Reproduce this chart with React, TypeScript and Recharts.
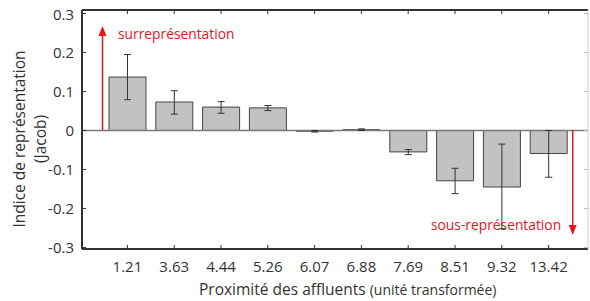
import { BarChart, Bar, XAxis, YAxis, ErrorBar, ReferenceLine } from "recharts";

// Proximité des affluents (categories) and Jacob index per class
const categories = ["1.21", "3.63", "4.44", "5.26", "6.07", "6.88", "7.69", "8.51", "9.32", "13.42"];
const jacob = [0.137, 0.073, 0.06, 0.058, -0.002, 0.002, -0.055, -0.129, -0.145, -0.059];
// lower / upper extent of the error bars (distance from the bar value)
const errLow = [0.058, 0.031, 0.016, 0.007, 0.002, 0.002, 0.007, 0.033, 0.107, 0.061];
const errHigh = [0.058, 0.029, 0.014, 0.006, 0.002, 0.002, 0.006, 0.032, 0.11, 0.059];
const yTicks = [-0.3, -0.2, -0.1, 0, 0.1, 0.2, 0.3];

const data = categories.map((cat, i) => ({
  cat,
  value: jacob[i],
  err: [errLow[i], errHigh[i]],
}));

const FONT = "'Open Sans', sans-serif";
const AXIS = "#333";
const RED = "#e8141c";
const DOMAIN: [number, number] = [-0.304, 0.309];

const LeftTick = ({ x, y, payload }: any) => (
  <g>
    <line x1={x} x2={x + 4} y1={y} y2={y} stroke={AXIS} strokeWidth={1} />
    <text x={x - 8} y={y} textAnchor="end" dominantBaseline="central" fontSize={15} fill="#333" fontFamily={FONT}>
      {payload.value}
    </text>
  </g>
);

const RightTick = ({ x, y }: any) => (
  <line x1={x - 4} x2={x} y1={y} y2={y} stroke="#bbb" strokeWidth={1} />
);

const BottomTick = ({ x, y, payload }: any) => (
  <g>
    <line x1={x} x2={x} y1={y} y2={y - 4} stroke={AXIS} strokeWidth={1} />
    <text x={x} y={y + 23} textAnchor="middle" fontSize={15} fill="#333" fontFamily={FONT}>
      {payload.value}
    </text>
  </g>
);

const TopTick = ({ x, y }: any) => <line x1={x} x2={x} y1={y} y2={y + 4} stroke={AXIS} strokeWidth={1} />;

export default function App() {
  return (
    <div style={{ position: "absolute", left: 0, top: 0, width: 590, height: 301, background: "#fff" }}>
      <BarChart width={590} height={301} data={data} margin={{ top: 9, right: 1, bottom: 51, left: 0 }}>
        <XAxis
          dataKey="cat"
          xAxisId="b"
          height={1}
          padding={{ left: 22, right: 16 }}
          stroke={AXIS}
          strokeWidth={2}
          tickLine={false}
          tickSize={0}
          tickMargin={0}
          interval={0}
          tick={<BottomTick />}
        />
        <XAxis
          dataKey="cat"
          xAxisId="t"
          orientation="top"
          height={1}
          padding={{ left: 22, right: 16 }}
          stroke={AXIS}
          strokeWidth={2}
          tickLine={false}
          tickSize={0}
          tickMargin={0}
          interval={0}
          tick={<TopTick />}
        />
        <YAxis
          yAxisId="l"
          width={82}
          domain={DOMAIN}
          ticks={yTicks}
          allowDataOverflow
          stroke={AXIS}
          strokeWidth={2}
          tickLine={false}
          tickSize={0}
          tickMargin={0}
          interval={0}
          tick={<LeftTick />}
        />
        <YAxis
          yAxisId="r"
          orientation="right"
          width={1}
          domain={DOMAIN}
          ticks={yTicks}
          allowDataOverflow
          stroke="#ccc"
          tickLine={false}
          tickSize={0}
          tickMargin={0}
          interval={0}
          tick={<RightTick />}
        />
        <ReferenceLine y={0} xAxisId="b" yAxisId="l" stroke="#7a7a7a" strokeWidth={1.5} />
        <Bar
          dataKey="value"
          xAxisId="b"
          yAxisId="l"
          barSize={37}
          fill="#c2c2c2"
          stroke="#444"
          strokeWidth={1}
          isAnimationActive={false}
        >
          <ErrorBar dataKey="err" width={3.5} stroke="#333" strokeWidth={1} direction="y" />
        </Bar>
        {/* invisible series so the top / right frame axes get a scale */}
        <Bar dataKey="value" xAxisId="t" yAxisId="r" fill="none" stroke="none" barSize={0} isAnimationActive={false} />
      </BarChart>

      {/* annotations and axis titles */}
      <svg width={590} height={301} style={{ position: "absolute", left: 0, top: 0, pointerEvents: "none" }}>
        <line x1={102.5} x2={102.5} y1={130} y2={36} stroke={RED} strokeWidth={1.5} />
        <polygon points="98.5,36 106.5,36 102.5,26" fill={RED} />
        <text x={118} y={39} fontSize={13.8} fill={RED} fontFamily={FONT}>
          surreprésentation
        </text>

        <line x1={572.7} x2={572.7} y1={130} y2={225} stroke={RED} strokeWidth={1.5} />
        <polygon points="568.7,225 576.7,225 572.7,235" fill={RED} />
        <text x={431} y={230} fontSize={13.8} fill={RED} fontFamily={FONT}>
          sous-représentation
        </text>

        <text
          transform="translate(19,139) rotate(-90)"
          textAnchor="middle"
          dominantBaseline="central"
          fontSize={15.5}
          fill="#333"
          fontFamily={FONT}
        >
          Indice de représentation
        </text>
        <text
          transform="translate(40,139) rotate(-90)"
          textAnchor="middle"
          dominantBaseline="central"
          fontSize={15.5}
          fill="#333"
          fontFamily={FONT}
        >
          (Jacob)
        </text>

        <text x={199} y={295} fontSize={15.5} fill="#333" fontFamily={FONT}>
          Proximité des affluents <tspan fontSize={14}>(unité transformée)</tspan>
        </text>
      </svg>
    </div>
  );
}
